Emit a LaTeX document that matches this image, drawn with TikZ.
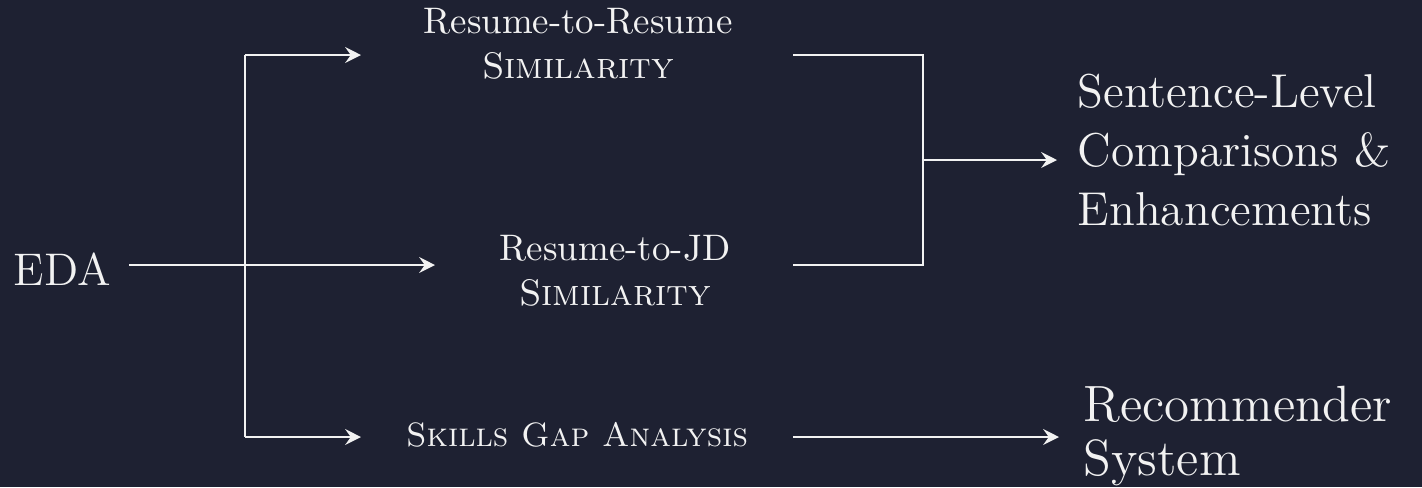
\documentclass[tikz,border=0pt]{standalone}
\usepackage{tikz}
\usetikzlibrary{arrows.meta, positioning}
\usepackage{xcolor}
\definecolor{slate}{HTML}{1E2132}
\definecolor{chalk}{HTML}{F2F2F2}

\begin{document}
\begin{tikzpicture}[x=0.01cm, y=-0.01cm,
    flow/.style={draw=chalk, line width=0.6pt, -{Stealth[length=4.5pt, width=4.5pt, inset=1.6pt]}},
    link/.style={draw=chalk, line width=0.6pt},
    label/.style={text=chalk, inner sep=0pt, align=center, anchor=north, font=\fontsize{10.5}{12.8}\selectfont}]
% background
\fill[slate] (0,0) rectangle (1422,487);
\useasboundingbox (0,0) rectangle (1422,487);

% stages
\node[label, anchor=north west, font=\fontsize{13}{15}\selectfont] (eda) at (13,252) {EDA};
\node[label] (rr) at (578,8) {Resume-to-Resume\\\textsc{Similarity}};
\node[label] (rjd) at (615,235) {Resume-to-JD\\\textsc{Similarity}};
\node[label, font=\fontsize{9.6}{12}\selectfont] (sga) at (577,422) {\textsc{Skills Gap Analysis}};
\node[label, anchor=north west, align=left, font=\fontsize{13.5}{16.8}\selectfont] (slc) at (1077,73) {Sentence-Level\\Comparisons \&\\Enhancements};
\node[label, anchor=north west, align=left, font=\fontsize{14.5}{15.6}\selectfont] (rs) at (1083,385) {Recommender\\System};

% branch points and arrow ends
\coordinate (edaOut) at (129,265);
\coordinate (edaTip) at (435,265);
\coordinate (forkTop) at (245,55);
\coordinate (forkBot) at (245,437);
\coordinate (topTip) at (361,55);
\coordinate (botTip) at (361,437);
\coordinate (joinTop) at (793,55);
\coordinate (joinBot) at (793,265);
\coordinate (join) at (923,160);
\coordinate (joinTip) at (1057,160);
\coordinate (gapOut) at (793,437);
\coordinate (gapTip) at (1059,437);

% connectors
\draw[flow] (edaOut) -- (edaTip);
\draw[link] (forkTop) -- (forkBot);
\draw[flow] (forkTop) -- (topTip);
\draw[flow] (forkBot) -- (botTip);
\draw[link] (joinTop) -| (join) |- (joinBot);
\draw[flow] (join) -- (joinTip);
\draw[flow] (gapOut) -- (gapTip);
\end{tikzpicture}
\end{document}
